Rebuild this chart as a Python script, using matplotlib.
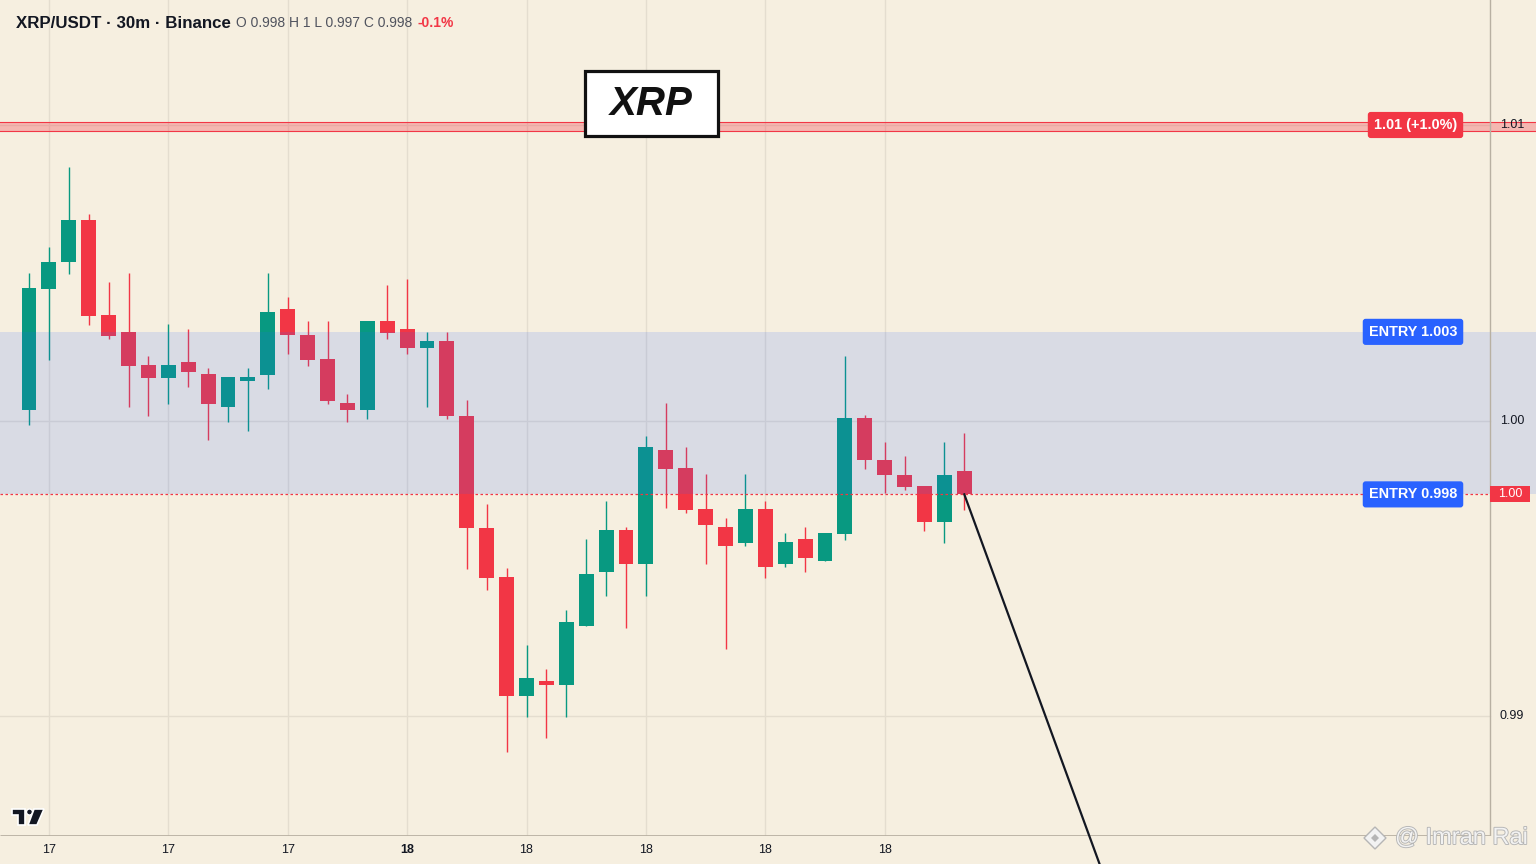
import matplotlib
matplotlib.use("Agg")
import matplotlib.pyplot as plt
import matplotlib.patheffects as pe
from matplotlib.patches import Rectangle, Polygon, Circle, RegularPolygon
from matplotlib.transforms import IdentityTransform
import numpy as np

W, H, DPI = 1536, 864, 100

# ---- data ----
opens = [1.00036, 1.00446, 1.00536, 1.00679, 1.00357, 1.00299, 1.00188, 1.00144, 1.00198, 1.00157,
         1.00046, 1.00134, 1.00154, 1.00377, 1.00289, 1.00208, 1.00059, 1.00036, 1.00337, 1.00310,
         1.00245, 1.00269, 1.00015, 0.99636, 0.99470, 0.99068, 0.99118, 0.99105, 0.99305, 0.99487,
         0.99629, 0.99514, 0.99900, 0.99839, 0.99701, 0.99640, 0.99585, 0.99701, 0.99514, 0.99599,
         0.99525, 0.99616, 1.00008, 0.99866, 0.99816, 0.99778, 0.99657, 0.99829]
highs = [1.00499, 1.00587, 1.00858, 1.00699, 1.00469, 1.00499, 1.00218, 1.00327, 1.00310, 1.00178,
         1.00147, 1.00178, 1.00499, 1.00418, 1.00337, 1.00337, 1.00090, 1.00337, 1.00459, 1.00479,
         1.00299, 1.00299, 1.00069, 0.99717, 0.99501, 0.99240, 0.99159, 0.99359, 0.99599, 0.99728,
         0.99640, 0.99948, 1.00059, 0.99910, 0.99819, 0.99670, 0.99819, 0.99728, 0.99619, 0.99640,
         0.99619, 1.00218, 1.00019, 0.99927, 0.99880, 0.99778, 0.99927, 0.99958]
lows = [0.99985, 1.00205, 1.00496, 1.00323, 1.00276, 1.00046, 1.00015, 1.00056, 1.00113, 0.99934,
        0.99995, 0.99964, 1.00107, 1.00225, 1.00184, 1.00056, 0.99995, 1.00005, 1.00276, 1.00225,
        1.00046, 1.00005, 0.99497, 0.99426, 0.98878, 0.98997, 0.98926, 0.98997, 0.99305, 0.99406,
        0.99298, 0.99406, 0.99704, 0.99687, 0.99514, 0.99227, 0.99575, 0.99467, 0.99504, 0.99487,
        0.99525, 0.99596, 0.99836, 0.99755, 0.99765, 0.99626, 0.99585, 0.99697]
closes = [1.00448, 1.00536, 1.00679, 1.00354, 1.00286, 1.00184, 1.00144, 1.00188, 1.00164, 1.00056,
          1.00147, 1.00147, 1.00367, 1.00289, 1.00206, 1.00066, 1.00036, 1.00337, 1.00296, 1.00245,
          1.00269, 1.00015, 0.99636, 0.99467, 0.99068, 0.99129, 0.99105, 0.99318, 0.99481, 0.99629,
          0.99514, 0.99910, 0.99836, 0.99697, 0.99646, 0.99575, 0.99701, 0.99504, 0.99589, 0.99535,
          0.99619, 1.00008, 0.99866, 0.99816, 0.99775, 0.99657, 0.99816, 0.99750]

time_ticks = [1, 7, 13, 19, 25, 31, 37, 43]
time_labels = ["17", "17", "17", "18", "18", "18", "18", "18"]
price_ticks = [1.01, 1.00, 0.99]
entry_levels = [1.003, 0.9975]
entry_labels = ["ENTRY 1.003", "ENTRY 0.998"]
target = 1.01
target_label = "1.01 (+1.0%)"
proj_x = [47, 54.5]
proj_y = [0.9975, 0.9837]
header = "XRP/USDT · 30m · Binance"
header_ohlc = "O 0.998 H 1 L 0.997 C 0.998"
header_chg = "-0.1%"

# ---- style ----
BG = "#F6EFE0"
GREEN = "#089981"
RED = "#F23645"
BLUE = "#2962FF"
GRID = "#E4DDCF"
AXIS = "#B8B0A2"
TXT = "#131722"
FONT = ["Liberation Sans", "DejaVu Sans"]
plt.rcParams["font.family"] = FONT

STEP = 19.9   # px per candle
X0 = 29       # px of first candle
def ix(px):
    return (px - X0) / STEP

fig = plt.figure(figsize=(W / DPI, H / DPI), dpi=DPI, facecolor=BG)
ax = fig.add_axes([0, (H - 836) / H, 1, 836 / H])
ax.set_facecolor(BG)
ax.set_xlim(ix(0), ix(W))
ax.set_ylim(0.98594, 1.01423)
for s in ax.spines.values():
    s.set_visible(False)
ax.set_yticks([])

axis_x = ix(1490)
idx = np.arange(len(opens))
o, h, l, c = map(np.array, (opens, highs, lows, closes))
up = c >= o
cols = np.where(up, GREEN, RED)

# grid
for t in time_ticks:
    ax.axvline(t, color=GRID, lw=1, zorder=0.5)
for p in price_ticks:
    ax.axhline(p, xmax=1490 / W, color=GRID, lw=1, zorder=0.5)

# candles
ax.vlines(idx, l, h, colors=cols, lw=1, zorder=2)
body_lo = np.minimum(o, c)
body_h = np.maximum(np.abs(c - o), 0.00004)
ax.bar(idx, body_h, bottom=body_lo, width=0.75, color=cols, lw=0, zorder=2)

# entry zone overlay
ax.axhspan(entry_levels[1], entry_levels[0], color=BLUE, alpha=0.14, lw=0, zorder=3)
ax.hlines(closes[-1], ix(0), axis_x, colors=RED, lw=0.9, linestyles=(0, (2, 2)), zorder=4)

# target band
ax.axhspan(target - 0.0002, target + 0.0001, color=RED, alpha=0.3, lw=0, zorder=3)
ax.axhline(target + 0.0001, color=RED, lw=0.8, zorder=3)
ax.axhline(target - 0.0002, color=RED, lw=0.8, zorder=3)

# axis lines
ax.axvline(axis_x, color=AXIS, lw=1, zorder=4)
ax.hlines(ax.get_ylim()[0], ix(0), axis_x, colors=AXIS, lw=2, zorder=4)

# projection line
ax.plot(proj_x, proj_y, color=TXT, lw=1.6, zorder=6, clip_on=False)

# price scale labels
for p in price_ticks:
    ax.text(ix(1500), p, f"{p:.2f}", ha="left", va="center", fontsize=9, color=TXT, zorder=6)
ax.add_patch(Rectangle((axis_x, closes[-1] - 8 / 29550), 40 / STEP, 16 / 29550,
                       fc=RED, ec="none", zorder=6))
ax.text(ix(1510), closes[-1], f"{closes[-1]:.2f}", ha="center", va="center",
        fontsize=9, color="white", zorder=7)

# entry and target tags
for lvl, lab in zip(entry_levels, entry_labels):
    ax.text(ix(1413), lvl, lab, ha="center", va="center", color="white", fontsize=10.4,
            fontweight="bold", zorder=7,
            bbox=dict(boxstyle="round,pad=0.42,rounding_size=0.2", fc=BLUE, ec="none"))
ax.text(ix(1415.5), target, target_label, ha="center", va="center", color="white", fontsize=10.4,
        fontweight="bold", zorder=7,
        bbox=dict(boxstyle="round,pad=0.42,rounding_size=0.2", fc=RED, ec="none"))

# time axis
ax.set_xticks(time_ticks, time_labels)
ax.tick_params(axis="x", length=0, pad=6, labelsize=9, labelcolor=TXT)
ax.get_xticklabels()[3].set_fontweight("bold")

# header
renderer = fig.canvas.get_renderer()
x = 16
for s, col, wt, fs, gap in [(header, TXT, "bold", 12.2, 5),
                            (header_ohlc, "#50535E", "normal", 10.0, 5),
                            (header_chg, RED, "bold", 10.0, 0)]:
    t = fig.text(x / W, 1 - 23 / H, s, color=col, fontweight=wt, fontsize=fs,
                 ha="left", va="center")
    x = t.get_window_extent(renderer).x1 + gap

# XRP box
fig.patches.append(Rectangle((585 / W, 1 - 136 / H), 133 / W, 65 / H, transform=fig.transFigure,
                             fc="white", ec="#111111", lw=2.3, zorder=5))
fig.text(651 / W, 1 - 104 / H, "XRP", fontsize=29, fontweight="bold", fontstyle="italic",
         ha="center", va="center", color="#111111", zorder=6)

# TradingView logo (display pixels)
tv = IdentityTransform()
def P(pts):
    return [(px, H - py) for px, py in pts]
fig.patches.append(Polygon(P([(12, 809), (25, 809), (25, 825), (18, 825), (18, 815), (12, 815)]),
                           closed=True, fc=TXT, ec="white", lw=1.2, transform=tv, zorder=6))
fig.patches.append(Circle((29.5, H - 812), 3, fc=TXT, ec="white", lw=1.0, transform=tv, zorder=6))
fig.patches.append(Polygon(P([(34, 809), (44, 809), (37, 825), (28, 825)]),
                           closed=True, fc=TXT, ec="white", lw=1.2, transform=tv, zorder=6))

# watermark
halo = [pe.withStroke(linewidth=1.3, foreground="#B5B5B5")]
fig.patches.append(RegularPolygon((1375, H - 838), 4, radius=11, orientation=0, fc="#F2F2F2",
                                  ec="#B5B5B5", lw=1, transform=tv, zorder=6))
fig.patches.append(RegularPolygon((1375, H - 838), 4, radius=4, orientation=0, fc="#B5B5B5",
                                  ec="none", transform=tv, zorder=7))
fig.text(1395 / W, 1 - 838 / H, "@ Imran Rai", fontsize=17, color="#F2F2F2", ha="left",
         va="center", path_effects=halo, zorder=6)

fig.savefig("out.png", dpi=DPI, facecolor=BG)
